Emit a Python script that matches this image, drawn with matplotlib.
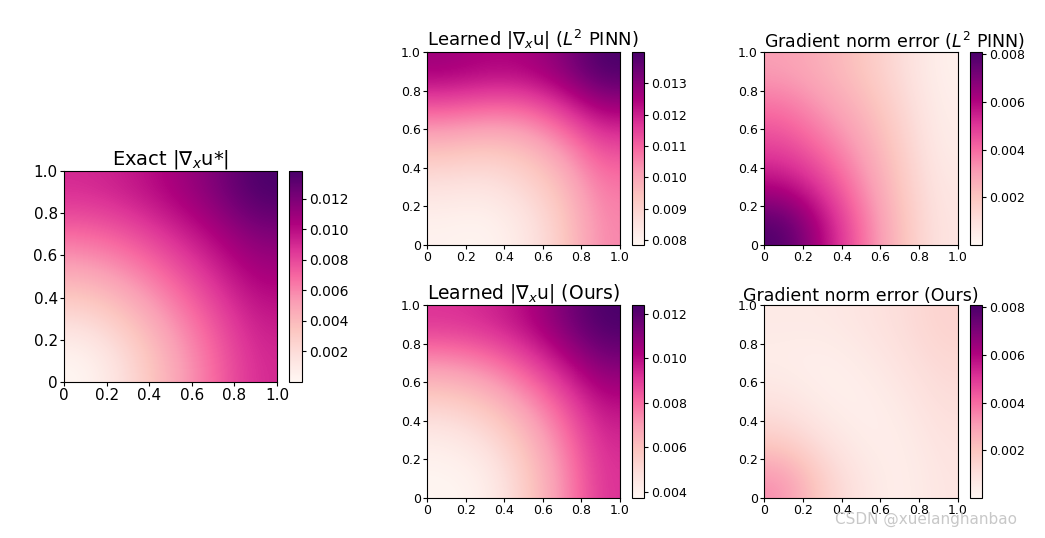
import matplotlib
matplotlib.use('Agg')
import matplotlib.pyplot as plt
import numpy as np

# grids sampled at x, y = 0, 0.25, 0.5, 0.75, 1 (rows: y from 0 to 1)
exact = [[0.0000, 0.0020, 0.0045, 0.0068, 0.0090],
         [0.0020, 0.0035, 0.0055, 0.0075, 0.0095],
         [0.0045, 0.0055, 0.0070, 0.0088, 0.0105],
         [0.0068, 0.0075, 0.0088, 0.0102, 0.0118],
         [0.0090, 0.0095, 0.0105, 0.0118, 0.0138]]

learned_l2 = [[0.0080, 0.0079, 0.0083, 0.0092, 0.0105],
              [0.0085, 0.0084, 0.0088, 0.0095, 0.0107],
              [0.0095, 0.0093, 0.0095, 0.0102, 0.0113],
              [0.0110, 0.0108, 0.0108, 0.0115, 0.0125],
              [0.0127, 0.0125, 0.0125, 0.0130, 0.0140]]

err_l2 = [[0.0080, 0.0060, 0.0040, 0.0022, 0.0008],
          [0.0060, 0.0050, 0.0035, 0.0020, 0.0007],
          [0.0048, 0.0040, 0.0030, 0.0018, 0.0005],
          [0.0040, 0.0032, 0.0025, 0.0015, 0.0004],
          [0.0030, 0.0026, 0.0020, 0.0012, 0.0003]]

learned_ours = [[0.0038, 0.0040, 0.0055, 0.0072, 0.0092],
                [0.0042, 0.0048, 0.0060, 0.0076, 0.0094],
                [0.0055, 0.0060, 0.0070, 0.0084, 0.0100],
                [0.0072, 0.0076, 0.0085, 0.0098, 0.0112],
                [0.0092, 0.0094, 0.0100, 0.0112, 0.0124]]

err_ours = [[0.0034, 0.0017, 0.0008, 0.0003, 0.0008],
            [0.0017, 0.0010, 0.0004, 0.0004, 0.0009],
            [0.0009, 0.0004, 0.0003, 0.0006, 0.0011],
            [0.0004, 0.0003, 0.0005, 0.0009, 0.0013],
            [0.0006, 0.0006, 0.0008, 0.0011, 0.0015]]

axis_ticks = [0, 0.2, 0.4, 0.6, 0.8, 1.0]
axis_labels = ['0', '0.2', '0.4', '0.6', '0.8', '1.0']

W, H = 1045, 538
fig = plt.figure(figsize=(W / 100, H / 100), dpi=100)


def px(x0, y0, x1, y1):
    return [x0 / W, 1 - y1 / H, (x1 - x0) / W, (y1 - y0) / H]


def panel(box, cbox, data, title, cticks, vmin=None, vmax=None, fs=9, cfs=9,
          tfs=13, tloc='center'):
    ax = fig.add_axes(px(*box))
    im = ax.imshow(np.array(data), origin='lower', extent=[0, 1, 0, 1], cmap='RdPu',
                   interpolation='bicubic', vmin=vmin, vmax=vmax, aspect='auto')
    ax.set_xticks(axis_ticks)
    ax.set_xticklabels(axis_labels, fontsize=fs)
    ax.set_yticks(axis_ticks)
    ax.set_yticklabels(axis_labels, fontsize=fs)
    ax.tick_params(pad=1.5, length=3)
    ax.set_title(title, fontsize=tfs, pad=-1, loc=tloc)
    cax = fig.add_axes(px(*cbox))
    cb = fig.colorbar(im, cax=cax)
    cb.set_ticks(cticks)
    cb.ax.tick_params(labelsize=cfs, length=3, pad=2)
    cb.outline.set_linewidth(0.8)
    return ax


panel((64, 171, 277, 382), (289, 171, 302, 382), exact, r'Exact $|\nabla_x$u*$|$',
      [0.002, 0.004, 0.006, 0.008, 0.010, 0.012], vmin=0.0, vmax=0.0138,
      fs=11, cfs=10, tfs=14)
panel((427, 52, 620, 245), (632, 52, 644, 245), learned_l2,
      r'Learned $|\nabla_x$u$|$ ($L^2$ PINN)',
      [0.008, 0.009, 0.010, 0.011, 0.012, 0.013], vmin=0.00784, vmax=0.0140,
      tloc='left')
panel((764, 52, 958, 245), (970, 52, 982, 245), err_l2,
      r'Gradient norm error ($L^2$ PINN)',
      [0.002, 0.004, 0.006, 0.008], vmin=0.0, vmax=0.0081, tfs=12.5, tloc='left')
panel((427, 305, 620, 498), (632, 305, 644, 498), learned_ours,
      r'Learned $|\nabla_x$u$|$ (Ours)',
      [0.004, 0.006, 0.008, 0.010, 0.012], vmin=0.00373, vmax=0.0124,
      tfs=13.5, tloc='left')
panel((764, 305, 958, 498), (970, 305, 982, 498), err_ours,
      'Gradient norm error (Ours)',
      [0.002, 0.004, 0.006, 0.008], vmin=0.0, vmax=0.0081, tfs=12.5)

fig.text(835 / W, 1 - 519 / H, 'CSDN @xuelanghanbao', fontsize=11, color='#c8c8c8',
         va='center', ha='left')

fig.savefig('out.png', dpi=100)
